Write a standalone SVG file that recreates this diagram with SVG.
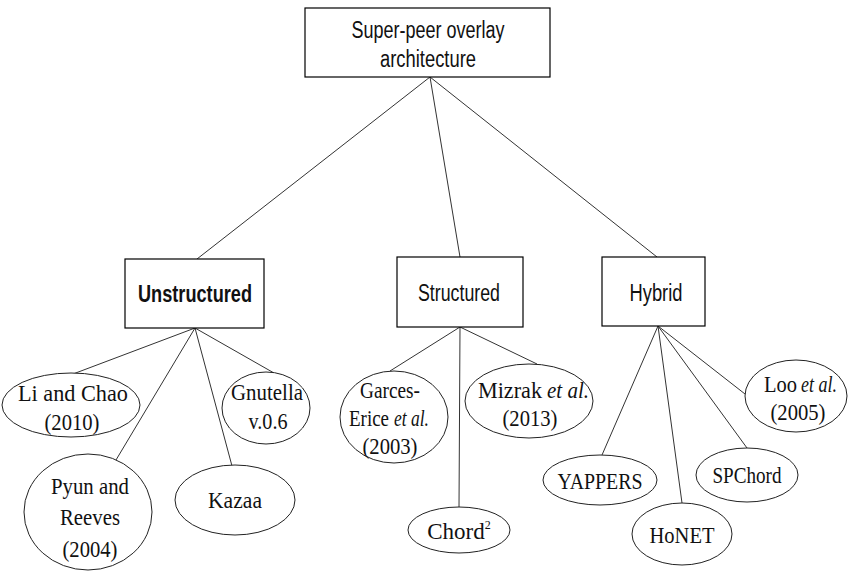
<svg xmlns="http://www.w3.org/2000/svg" width="851" height="572" viewBox="0 0 851 572">
<style>
.box{fill:#fff;stroke:#000;stroke-width:1.2}
.ell{fill:#fff;stroke:#222;stroke-width:1}
.ln{stroke:#333;stroke-width:1;fill:none}
.hd{font-family:"Liberation Sans",Arial,sans-serif;font-size:23px;fill:#111;text-anchor:middle}
.lf{font-family:"Liberation Serif","Times New Roman",serif;font-size:23px;fill:#111;text-anchor:middle}
.st{text-anchor:start}
.it{font-style:italic}
</style>
<rect width="851" height="572" fill="#fff"/>
<g id="connectors">
<line class="ln" x1="430" y1="77" x2="197" y2="259"/>
<line class="ln" x1="430" y1="77" x2="460" y2="257"/>
<line class="ln" x1="430" y1="77" x2="657" y2="257"/>
<line class="ln" x1="195" y1="328" x2="73" y2="374"/>
<line class="ln" x1="195" y1="328" x2="110" y2="470"/>
<line class="ln" x1="195" y1="328" x2="232" y2="466"/>
<line class="ln" x1="195" y1="328" x2="274" y2="373"/>
<line class="ln" x1="460" y1="327" x2="390" y2="371"/>
<line class="ln" x1="460" y1="327" x2="459" y2="507"/>
<line class="ln" x1="460" y1="327" x2="537" y2="364"/>
<line class="ln" x1="658" y1="326" x2="602" y2="455"/>
<line class="ln" x1="658" y1="326" x2="682" y2="503"/>
<line class="ln" x1="658" y1="326" x2="747" y2="448"/>
<line class="ln" x1="658" y1="326" x2="745" y2="394"/>
</g>
<g id="root">
<rect class="box" x="305" y="8" width="245" height="69"/>
<text class="hd" x="428" y="38" textLength="153" lengthAdjust="spacingAndGlyphs">Super-peer overlay</text>
<text class="hd" x="428" y="67" textLength="96" lengthAdjust="spacingAndGlyphs">architecture</text>
</g>
<g id="unstructured">
<rect class="box" x="125" y="259" width="139" height="69"/>
<text class="hd" x="195" y="302" font-size="24" font-weight="bold" textLength="114" lengthAdjust="spacingAndGlyphs">Unstructured</text>
</g>
<g id="structured">
<rect class="box" x="397" y="257" width="126" height="70"/>
<text class="hd" x="459" y="301" textLength="82" lengthAdjust="spacingAndGlyphs">Structured</text>
</g>
<g id="hybrid">
<rect class="box" x="602" y="257" width="103" height="69"/>
<text class="hd" x="656" y="301" textLength="53" lengthAdjust="spacingAndGlyphs">Hybrid</text>
</g>
<g id="li-chao">
<ellipse class="ell" cx="71" cy="405" rx="69" ry="32"/>
<text class="lf" x="73" y="401" textLength="110" lengthAdjust="spacingAndGlyphs">Li and Chao</text>
<text class="lf" x="72" y="430" textLength="55" lengthAdjust="spacingAndGlyphs">(2010)</text>
</g>
<g id="pyun-reeves">
<ellipse class="ell" cx="88" cy="512" rx="64" ry="58"/>
<text class="lf" x="90" y="494" textLength="78" lengthAdjust="spacingAndGlyphs">Pyun and</text>
<text class="lf" x="90" y="525" textLength="60" lengthAdjust="spacingAndGlyphs">Reeves</text>
<text class="lf" x="90" y="557" textLength="55" lengthAdjust="spacingAndGlyphs">(2004)</text>
</g>
<g id="kazaa">
<ellipse class="ell" cx="235" cy="500" rx="60" ry="35"/>
<text class="lf" x="235" y="508" textLength="54" lengthAdjust="spacingAndGlyphs">Kazaa</text>
</g>
<g id="gnutella">
<ellipse class="ell" cx="266" cy="408" rx="44" ry="36"/>
<text class="lf" x="267" y="400" textLength="72" lengthAdjust="spacingAndGlyphs">Gnutella</text>
<text class="lf" x="268" y="429" textLength="39" lengthAdjust="spacingAndGlyphs">v.0.6</text>
</g>
<g id="garces-erice">
<ellipse class="ell" cx="394" cy="417" rx="54" ry="46"/>
<text class="lf" x="390" y="398" textLength="60" lengthAdjust="spacingAndGlyphs">Garces-</text>
<text class="lf st" x="349" y="426" textLength="40" lengthAdjust="spacingAndGlyphs">Erice</text>
<text class="lf st it" x="394" y="426" textLength="35" lengthAdjust="spacingAndGlyphs">et al.</text>
<text class="lf" x="390" y="454" textLength="55" lengthAdjust="spacingAndGlyphs">(2003)</text>
</g>
<g id="mizrak">
<ellipse class="ell" cx="529" cy="401" rx="64" ry="37"/>
<text class="lf st" x="478" y="398" textLength="64" lengthAdjust="spacingAndGlyphs">Mizrak</text>
<text class="lf st it" x="547" y="398" textLength="42" lengthAdjust="spacingAndGlyphs">et al.</text>
<text class="lf" x="530" y="426" textLength="55" lengthAdjust="spacingAndGlyphs">(2013)</text>
</g>
<g id="chord2">
<ellipse class="ell" cx="459" cy="530" rx="51" ry="23"/>
<text class="lf" x="459" y="539">Chord<tspan font-size="12" dy="-10">2</tspan></text>
</g>
<g id="yappers">
<ellipse class="ell" cx="600" cy="480" rx="57" ry="25"/>
<text class="lf" x="600" y="489" textLength="85" lengthAdjust="spacingAndGlyphs">YAPPERS</text>
</g>
<g id="honet">
<ellipse class="ell" cx="682" cy="534" rx="50" ry="31"/>
<text class="lf" x="682" y="543" textLength="65" lengthAdjust="spacingAndGlyphs">HoNET</text>
</g>
<g id="spchord">
<ellipse class="ell" cx="747" cy="475" rx="51" ry="27"/>
<text class="lf" x="747" y="483" textLength="69" lengthAdjust="spacingAndGlyphs">SPChord</text>
</g>
<g id="loo">
<ellipse class="ell" cx="796" cy="396" rx="51" ry="36"/>
<text class="lf st" x="764" y="392" textLength="33" lengthAdjust="spacingAndGlyphs">Loo</text>
<text class="lf st it" x="801" y="392" textLength="36" lengthAdjust="spacingAndGlyphs">et al.</text>
<text class="lf" x="798" y="420" textLength="55" lengthAdjust="spacingAndGlyphs">(2005)</text>
</g>
</svg>
